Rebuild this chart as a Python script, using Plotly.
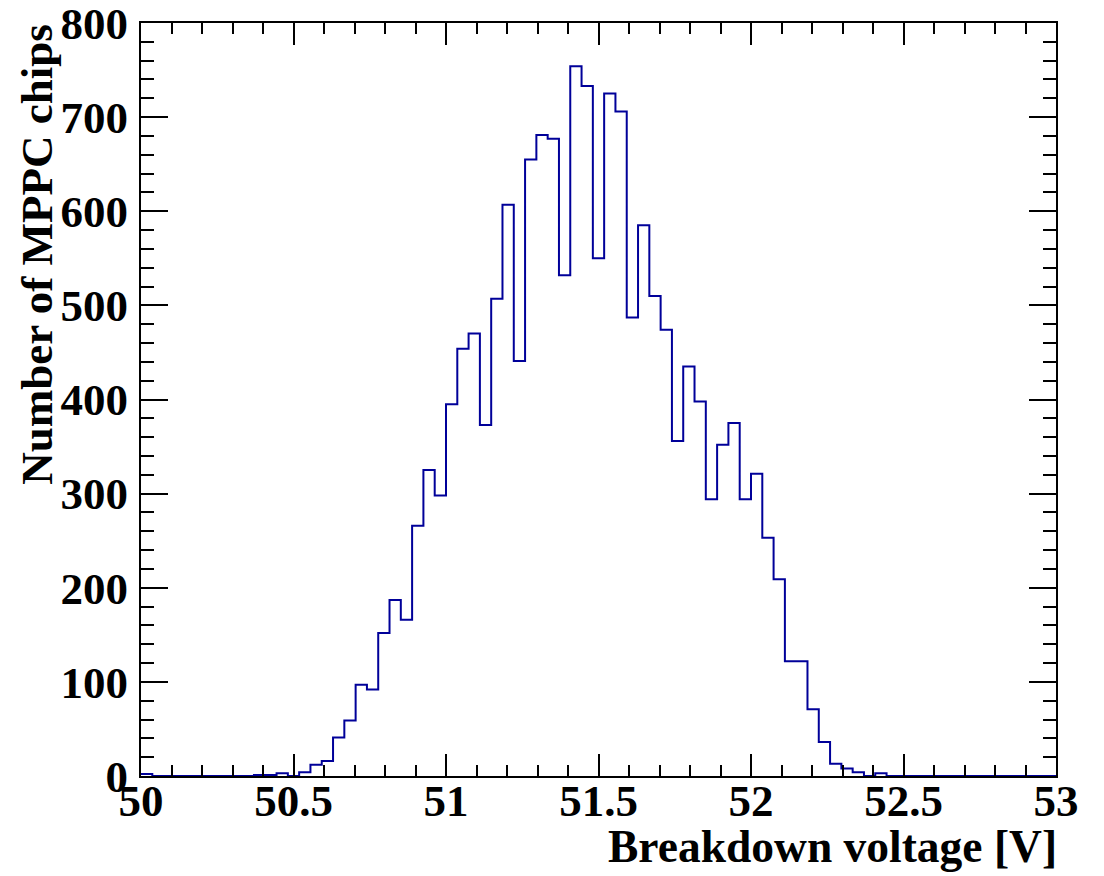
import plotly.graph_objects as go

# Histogram: 81 bins from 50 V to 53 V
x_min = 50.0
x_max = 53.0
n_bins = 81
counts = [2, 0, 0, 0, 0, 0, 0, 0, 0, 0,
          1, 1, 3, 0, 4, 12, 16, 41, 59, 97,
          92, 152, 187, 166, 266, 325, 298, 395, 454, 470,
          373, 507, 607, 441, 655, 681, 677, 532, 754, 733,
          550, 725, 706, 487, 585, 510, 474, 356, 435, 398,
          294, 352, 375, 294, 321, 253, 209, 122, 122, 71,
          36, 13, 8, 4, 0, 3, 0, 0, 0, 0,
          0, 0, 0, 0, 0, 0, 0, 0, 0, 0, 0]
x_tickvals = [50, 50.5, 51, 51.5, 52, 52.5, 53]
x_ticktext = ["50", "50.5", "51", "51.5", "52", "52.5", "53"]
y_tickvals = [0, 100, 200, 300, 400, 500, 600, 700, 800]
y_ticktext = ["0", "100", "200", "300", "400", "500", "600", "700", "800"]
x_title = "Breakdown voltage [V]"
y_title = "Number of MPPC chips"

width = (x_max - x_min) / n_bins
edges = [x_min + i * width for i in range(n_bins + 1)]
yvals = counts + [counts[-1]]

FONT = "Liberation Serif"

fig = go.Figure()
fig.add_trace(go.Scatter(
    x=edges, y=yvals, mode="lines", line_shape="hv",
    line=dict(color="#000099", width=2), showlegend=False,
    hoverinfo="skip"))

axis_common = dict(
    showline=True, linecolor="black", linewidth=2, mirror="ticks",
    ticks="inside", tickcolor="black", tickwidth=2,
    showgrid=False, zeroline=False, automargin=False,
    ticklabeloverflow="allow",
    tickfont=dict(family=FONT, size=45, color="black", weight="bold"),
)

fig.update_xaxes(range=[x_min, x_max], tickvals=x_tickvals, ticktext=x_ticktext,
                 ticklen=22, ticklabelstandoff=-16,
                 minor=dict(dtick=0.1, ticklen=11, ticks="inside", tickcolor="black",
                            tickwidth=2, showgrid=False),
                 **axis_common)
fig.update_yaxes(range=[0, 800], tickvals=y_tickvals, ticktext=y_ticktext,
                 ticklen=27, ticklabelstandoff=2,
                 minor=dict(dtick=20, ticklen=13, ticks="inside", tickcolor="black",
                            tickwidth=2, showgrid=False),
                 **axis_common)

fig.add_annotation(text=x_title, xref="paper", yref="paper", x=1.003, y=-0.094,
                   xanchor="right", yanchor="middle", showarrow=False,
                   font=dict(family=FONT, size=45.5, color="black", weight="bold"))
fig.add_annotation(text=y_title, xref="paper", yref="paper", x=-0.114, y=1.0,
                   xanchor="center", yanchor="top", textangle=-90, showarrow=False,
                   font=dict(family=FONT, size=45, color="black", weight="bold"))

fig.update_layout(
    width=1104, height=876,
    margin=dict(l=141, r=48, t=23, b=100),
    paper_bgcolor="white", plot_bgcolor="white",
)

fig.write_html("out.html")
